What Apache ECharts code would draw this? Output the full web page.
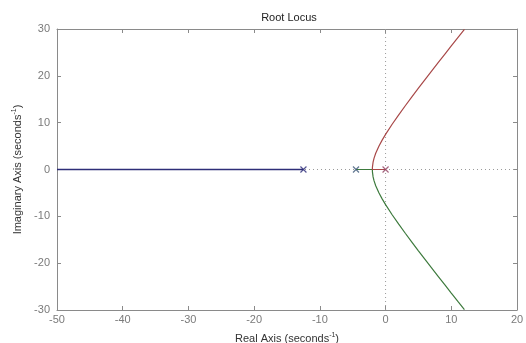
<!DOCTYPE html>
<html>
<head>
<meta charset="utf-8">
<script src="https://cdn.jsdelivr.net/npm/echarts@6/dist/echarts.min.js"></script>
<style>html,body{margin:0;padding:0;background:#fff}#c{width:526px;height:343px}</style>
</head>
<body>
<div id="c"></div>
<script>
// Root locus branches (real, imaginary)
var blueBranch = [[-50, 0], [-12.5, 0]];
var redBranch = [[0, 0], [-2.01, 0], [-2.0, 0.5], [-1.9, 1.58], [-1.75, 2.44], [-1.5, 3.46], [-1.0, 5.03], [-0.5, 6.32], [0, 7.5], [1, 9.66], [2, 11.67], [3, 13.61], [4, 15.5], [5, 17.36], [6, 19.19], [7, 21.01], [8, 22.81], [9, 24.6], [10, 26.39], [11, 28.17], [12, 29.94], [12.05, 30.03]];
var greenBranch = [[-4.5, 0], [-2.01, 0], [-2.0, -0.5], [-1.9, -1.58], [-1.75, -2.44], [-1.5, -3.46], [-1.0, -5.03], [-0.5, -6.32], [0, -7.5], [1, -9.66], [2, -11.67], [3, -13.61], [4, -15.5], [5, -17.36], [6, -19.19], [7, -21.01], [8, -22.81], [9, -24.6], [10, -26.39], [11, -28.17], [12, -29.94], [12.05, -30.03]];
var poles = [[-12.5, 0], [-4.5, 0], [0, 0]];
var poleColors = ['#2a2a78', '#3c5878', '#904060'];
var xTicks = [-50, -40, -30, -20, -10, 0, 10, 20];
var yTicks = [-30, -20, -10, 0, 10, 20, 30];

var chart = echarts.init(document.getElementById('c'), null, {renderer: 'canvas'});
var axisCol = '#8a8a8a';
var font = 'Liberation Sans, Arial, sans-serif';
var nameRich = {
  a: {fontSize: 11, color: '#333', fontFamily: font, lineHeight: 14},
  s: {fontSize: 7, color: '#333', fontFamily: font, lineHeight: 8, verticalAlign: 'top'}
};
function xAx(pos, show) {
  return {
    type: 'value', position: pos, min: xTicks[0], max: xTicks[xTicks.length - 1], interval: 10,
    axisLine: {onZero: false, lineStyle: {color: axisCol, width: 1}},
    axisTick: {inside: true, length: 4, lineStyle: {color: axisCol}},
    axisLabel: {show: show, color: '#7a7a7a', fontSize: 11, fontFamily: font, margin: 4},
    splitLine: {show: false},
    name: show ? '{a|Real Axis (seconds}{s|-1}{a|)}' : '',
    nameLocation: 'middle', nameGap: 22,
    nameTextStyle: {rich: nameRich}
  };
}
function yAx(pos, show) {
  return {
    type: 'value', position: pos, min: yTicks[0], max: yTicks[yTicks.length - 1], interval: 10,
    axisLine: {onZero: false, lineStyle: {color: axisCol, width: 1}},
    axisTick: {inside: true, length: 4, lineStyle: {color: axisCol}},
    axisLabel: {show: show, color: '#7a7a7a', fontSize: 11, fontFamily: font, margin: 7},
    splitLine: {show: false},
    name: show ? '{a|Imaginary Axis (seconds}{s|-1}{a|)}' : '',
    nameLocation: 'middle', nameGap: 30,
    nameTextStyle: {rich: nameRich}
  };
}
var xPath = 'path://M0,0L10,10M10,0L0,10';
chart.setOption({
  animation: false,
  backgroundColor: '#fff',
  title: {text: 'Root Locus', left: 284, top: 7, textAlign: 'center',
    textStyle: {fontSize: 11, fontWeight: 'normal', color: '#222', fontFamily: font}},
  grid: {left: 57, right: 9, top: 29, bottom: 33, containLabel: false, outerBoundsMode: 'none'},
  xAxis: [xAx('bottom', true), xAx('top', false)],
  yAxis: [yAx('left', true), yAx('right', false)],
  series: [
    {type: 'line', data: [[0, yTicks[0]], [0, yTicks[yTicks.length - 1]]], symbol: 'none', z: 1,
      lineStyle: {color: '#9a9a9a', width: 1, type: [1, 3]}},
    {type: 'line', data: [[xTicks[0], 0], [xTicks[xTicks.length - 1], 0]], symbol: 'none', z: 1,
      lineStyle: {color: '#9a9a9a', width: 1, type: [1, 3]}},
    {type: 'line', data: blueBranch, symbol: 'none', z: 3, lineStyle: {color: '#2e2e78', width: 1.3}},
    {type: 'line', data: greenBranch, symbol: 'none', z: 3, lineStyle: {color: '#3d7a3d', width: 1.2}},
    {type: 'line', data: redBranch, symbol: 'none', z: 3, lineStyle: {color: '#a84848', width: 1.2}},
    {type: 'scatter', data: poles.map(function (p, i) {
        return {value: p, itemStyle: {borderColor: poleColors[i]}};
      }), symbol: xPath, symbolSize: 6, z: 5,
      itemStyle: {color: 'none', borderWidth: 1.2}}
  ]
});
</script>
</body>
</html>
